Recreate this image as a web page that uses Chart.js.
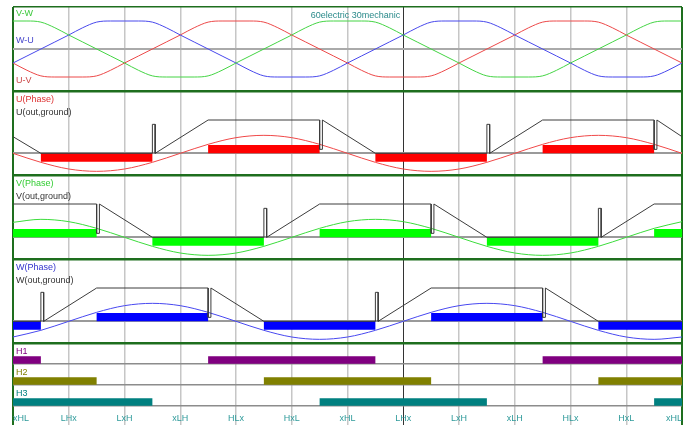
<!DOCTYPE html>
<html>
<head>
<meta charset="utf-8">
<script src="https://cdn.jsdelivr.net/npm/chart.js@4.4.1/dist/chart.umd.min.js"></script>
<style>
  html, body { margin: 0; padding: 0; background: #fff; }
  #wrap { width: 689px; height: 425px; }
</style>
</head>
<body>
<div id="wrap"><canvas id="bldc"></canvas></div>
<script>
// commutation states, one every 60 electric (30 mechanic) degrees
var stateLabels = ["xHL", "LHx", "LxH", "xLH", "HLx", "HxL", "xHL", "LHx", "LxH", "xLH", "HLx", "HxL", "xHL"];

// line-to-line back emf, every 15 deg
var emfDeg = [0, 15, 30, 45, 60, 75, 90, 105, 120, 135, 150, 165, 180, 195, 210, 225, 240, 255, 270, 285, 300, 315, 330, 345,
  360, 375, 390, 405, 420, 435, 450, 465, 480, 495, 510, 525, 540, 555, 570, 585, 600, 615, 630, 645, 660, 675, 690, 705, 720];
var emfVW = [1, 1, 0.96, 0.76, 0.5, 0.25, 0, -0.25, -0.5, -0.76, -0.96, -1, -1, -1, -0.96, -0.76, -0.5, -0.25, 0, 0.25, 0.5, 0.76, 0.96, 1,
  1, 1, 0.96, 0.76, 0.5, 0.25, 0, -0.25, -0.5, -0.76, -0.96, -1, -1, -1, -0.96, -0.76, -0.5, -0.25, 0, 0.25, 0.5, 0.76, 0.96, 1, 1];
var emfWU = [-0.5, -0.25, 0, 0.25, 0.5, 0.76, 0.96, 1, 1, 1, 0.96, 0.76, 0.5, 0.25, 0, -0.25, -0.5, -0.76, -0.96, -1, -1, -1, -0.96, -0.76,
  -0.5, -0.25, 0, 0.25, 0.5, 0.76, 0.96, 1, 1, 1, 0.96, 0.76, 0.5, 0.25, 0, -0.25, -0.5, -0.76, -0.96, -1, -1, -1, -0.96, -0.76, -0.5];
var emfUV = [-0.5, -0.76, -0.96, -1, -1, -1, -0.96, -0.76, -0.5, -0.25, 0, 0.25, 0.5, 0.76, 0.96, 1, 1, 1, 0.96, 0.76, 0.5, 0.25, 0, -0.25,
  -0.5, -0.76, -0.96, -1, -1, -1, -0.96, -0.76, -0.5, -0.25, 0, 0.25, 0.5, 0.76, 0.96, 1, 1, 1, 0.96, 0.76, 0.5, 0.25, 0, -0.25, -0.5];

// phase emf, every 30 deg
var phaseDeg = [0, 30, 60, 90, 120, 150, 180, 210, 240, 270, 300, 330, 360, 390, 420, 450, 480, 510, 540, 570, 600, 630, 660, 690, 720];
var phaseU = [0, -0.27, -0.47, -0.54, -0.47, -0.27, 0, 0.27, 0.47, 0.54, 0.47, 0.27, 0, -0.27, -0.47, -0.54, -0.47, -0.27, 0, 0.27, 0.47, 0.54, 0.47, 0.27, 0];
var phaseV = [0.45, 0.54, 0.47, 0.27, 0, -0.27, -0.47, -0.54, -0.47, -0.27, 0, 0.27, 0.47, 0.54, 0.47, 0.27, 0, -0.27, -0.47, -0.54, -0.47, -0.27, 0, 0.27, 0.47];
var phaseW = [-0.47, -0.27, 0, 0.27, 0.47, 0.54, 0.47, 0.27, 0, -0.27, -0.47, -0.54, -0.47, -0.27, 0, 0.27, 0.47, 0.54, 0.47, 0.27, 0, -0.27, -0.47, -0.54, -0.47];

// phase current direction (+1 / 0 / -1), held until next angle
var uCurDeg = [0, 30, 150, 210, 330, 390, 510, 570, 690, 720];
var uCur = [0, -1, 0, 1, 0, -1, 0, 1, 0, 0];
var vCurDeg = [0, 90, 150, 270, 330, 450, 510, 630, 690, 720];
var vCur = [1, 0, -1, 0, 1, 0, -1, 0, 1, 1];
var wCurDeg = [0, 30, 90, 210, 270, 390, 450, 570, 630, 720];
var wCur = [-1, 0, 1, 0, -1, 0, 1, 0, -1, -1];

// terminal voltage to ground (1 = supply), with the commutation spikes
var uOutDeg = [0, 30, 150, 150, 153, 153, 210, 330, 330, 333, 333, 390, 510, 510, 513, 513, 570, 690, 690, 693, 693, 720];
var uOut = [0.5, 0, 0, 0.87, 0.87, 0, 1, 1, 0.12, 0.12, 1, 0, 0, 0.87, 0.87, 0, 1, 1, 0.12, 0.12, 1, 0.5];
var vOutDeg = [0, 90, 90, 93, 93, 150, 270, 270, 273, 273, 330, 450, 450, 453, 453, 510, 630, 630, 633, 633, 690, 720];
var vOut = [1, 1, 0.12, 0.12, 1, 0, 0, 0.87, 0.87, 0, 1, 1, 0.12, 0.12, 1, 0, 0, 0.87, 0.87, 0, 1, 1];
var wOutDeg = [0, 30, 30, 33, 33, 90, 210, 210, 213, 213, 270, 390, 390, 393, 393, 450, 570, 570, 573, 573, 630, 720];
var wOut = [0, 0, 0.87, 0.87, 0, 1, 1, 0.12, 0.12, 1, 0, 0, 0.87, 0.87, 0, 1, 1, 0.12, 0.12, 1, 0, 0];

// hall sensors
var h1Deg = [0, 30, 210, 390, 570, 720];
var h1 = [1, 0, 1, 0, 1, 1];
var h2Deg = [0, 90, 270, 450, 630, 720];
var h2 = [1, 0, 1, 0, 1, 1];
var h3Deg = [0, 150, 330, 510, 690, 720];
var h3 = [1, 0, 1, 0, 1, 1];

var FONT = '"Liberation Sans", Arial, sans-serif';
var EDGE = "#1e6e1e";

function pts(xs, ys, f) {
  return xs.map(function (x, i) { return { x: x, y: f ? f(ys[i]) : ys[i] }; });
}

function curve(xs, ys, color, axis) {
  return {
    data: pts(xs, ys), yAxisID: axis, borderColor: color, borderWidth: 1,
    pointRadius: 0, fill: false, cubicInterpolationMode: "monotone", order: 2
  };
}

function polyline(xs, ys, axis) {
  return {
    data: pts(xs, ys), yAxisID: axis, borderColor: "#3c3c3c", borderWidth: 1,
    pointRadius: 0, fill: false, tension: 0, order: 1
  };
}

function blocks(xs, ys, color, axis, base, h) {
  return {
    data: pts(xs, ys, function (v) { return base + v * h; }), yAxisID: axis,
    borderColor: "rgba(0,0,0,0)", borderWidth: 0, backgroundColor: color,
    pointRadius: 0, stepped: true, fill: { value: base }, order: 3
  };
}

function panel(min, max, weight, order, marks, midColor, midWidth, edgeWidth) {
  return {
    type: "linear", position: "left", stack: "panels", stackWeight: weight, weight: order,
    min: min, max: max,
    afterBuildTicks: function (scale) {
      scale.ticks = marks.map(function (v) { return { value: v }; });
    },
    ticks: { display: false },
    border: { display: false },
    grid: {
      drawTicks: false,
      color: function (c) { return c.tick && c.tick.value === max ? EDGE : midColor; },
      lineWidth: function (c) { return c.tick && c.tick.value === max ? edgeWidth : midWidth; }
    }
  };
}

var textPlugin = {
  id: "panelText",
  afterDatasetsDraw: function (chart) {
    var ctx = chart.ctx, s = chart.scales, left = chart.chartArea.left + 3;
    ctx.save();
    ctx.font = "9px " + FONT;
    ctx.textBaseline = "middle";
    ctx.textAlign = "left";
    function put(txt, color, axis, v) {
      ctx.fillStyle = color;
      ctx.fillText(txt, left, s[axis].getPixelForValue(v));
    }
    put("V-W", "#3cc83c", "yT", 1.25);
    put("W-U", "#4646cc", "yT", 0.32);
    put("U-V", "#cc4646", "yT", -1.14);
    put("U(Phase)", "#dd3333", "yU", 1.61);
    put("U(out,ground)", "#333", "yU", 1.22);
    put("V(Phase)", "#33cc33", "yV", 1.61);
    put("V(out,ground)", "#333", "yV", 1.22);
    put("W(Phase)", "#3333cc", "yW", 1.61);
    put("W(out,ground)", "#333", "yW", 1.22);
    put("H1", "#800080", "yH", 2.6);
    put("H2", "#808000", "yH", 1.6);
    put("H3", "#008080", "yH", 0.6);
    ctx.textAlign = "right";
    ctx.fillStyle = "#2a8a8a";
    ctx.fillText("60electric 30mechanic", s.x.getPixelForValue(420) - 3, s.yT.getPixelForValue(1.21));
    ctx.restore();
  }
};

new Chart(document.getElementById("bldc"), {
  type: "line",
  data: {
    datasets: [
      curve(emfDeg, emfVW, "#44d444", "yT"),
      curve(emfDeg, emfWU, "#4848ec", "yT"),
      curve(emfDeg, emfUV, "#ec4848", "yT"),

      blocks(uCurDeg, uCur, "#ff0000", "yU", 0, 0.25),
      curve(phaseDeg, phaseU, "#f04848", "yU"),
      polyline(uOutDeg, uOut, "yU"),

      blocks(vCurDeg, vCur, "#00ff00", "yV", 0, 0.25),
      curve(phaseDeg, phaseV, "#3cdc3c", "yV"),
      polyline(vOutDeg, vOut, "yV"),

      blocks(wCurDeg, wCur, "#0000ff", "yW", 0, 0.25),
      curve(phaseDeg, phaseW, "#4848f0", "yW"),
      polyline(wOutDeg, wOut, "yW"),

      blocks(h1Deg, h1, "#800080", "yH", 2, 0.36),
      blocks(h2Deg, h2, "#808000", "yH", 1, 0.36),
      blocks(h3Deg, h3, "#008080", "yH", 0, 0.36)
    ]
  },
  options: {
    responsive: true,
    maintainAspectRatio: false,
    animation: false,
    layout: { padding: { left: 13, right: 7, top: 7, bottom: 4.8 } },
    plugins: { legend: { display: false }, tooltip: { enabled: false } },
    scales: {
      x: {
        type: "linear", position: "bottom", min: 0, max: 720,
        border: { display: false },
        grid: {
          drawTicks: true, tickLength: 48,
          color: function (c) {
            var v = c.tick ? c.tick.value : -1;
            if (v === 0 || v === 720) return EDGE;
            if (v === 420) return "#333";
            return "#c6c6c6";
          },
          lineWidth: function (c) {
            var v = c.tick ? c.tick.value : -1;
            if (v === 0 || v === 720) return 2;
            if (v === 420) return 1;
            return 1.5;
          }
        },
        ticks: {
          stepSize: 60, autoSkip: false, maxRotation: 0, align: "inner",
          mirror: true, padding: -17.4,
          color: "#2e9a9a", font: { family: FONT, size: 9 },
          callback: function (v, i) { return stateLabels[i]; }
        }
      },
      yT: panel(-1.5, 1.5, 84, 5, [1.5, 0], "#aaaaaa", 2, 1.5),
      yU: panel(-0.65, 1.87, 84, 4, [1.87, 0], "#9a9a9a", 2, 2.5),
      yV: panel(-0.65, 1.87, 84, 3, [1.87, 0], "#9a9a9a", 2, 2.5),
      yW: panel(-0.65, 1.87, 84, 2, [1.87, 0], "#9a9a9a", 2, 2.5),
      yH: panel(-0.06, 2.99, 64, 1, [2.99, 0, 1, 2], "#8c8c8c", 1.5, 2.5)
    }
  },
  plugins: [textPlugin]
});
</script>
</body>
</html>
